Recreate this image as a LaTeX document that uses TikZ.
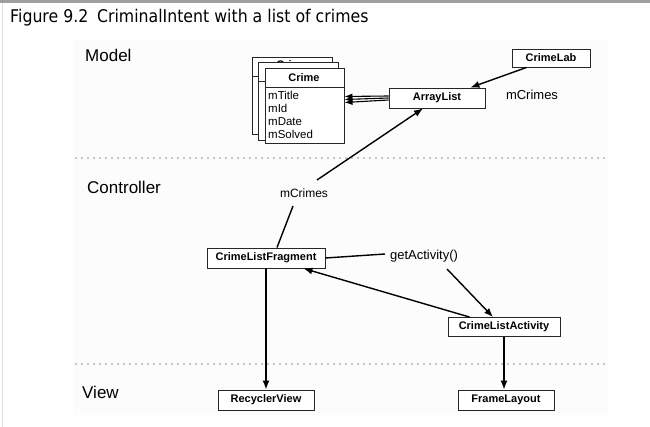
\documentclass[tikz,border=0pt]{standalone}
\usepackage{fontspec}
\setmainfont{Liberation Sans}
\newfontfamily\titlefont[FakeStretch=0.9]{DejaVu Sans}
\usetikzlibrary{arrows.meta,calc}
\begin{document}
\begin{tikzpicture}[x=1pt,y=-1pt,
  box/.style={draw=black!85,line width=0.9pt,fill=white,inner sep=0pt,font=\fontsize{11}{12}\selectfont\bfseries},
  arr/.style={line width=1.4pt,-{Latex[length=9pt,width=7pt]}},
  thinarr/.style={line width=1.1pt,-{Latex[length=8pt,width=6pt]}},
  ln/.style={line width=1.4pt},
  lbl/.style={inner sep=0pt,font=\fontsize{13}{14}\selectfont},
  field/.style={inner sep=0pt,anchor=west,font=\fontsize{11.5}{12}\selectfont},
  sect/.style={inner sep=0pt,anchor=west,font=\fontsize{17}{18}\selectfont},
  sepline/.style={draw=gray!45,line width=1.2pt,dash pattern=on 2pt off 4pt},
  card/.style={draw=black!85,line width=0.9pt,fill=white}]
\useasboundingbox (0,0) rectangle (650,427);
\fill[white] (0,0) rectangle (650,427);
\fill[gray!2] (73,40) rectangle (608,415);
\fill[gray!75] (0,0) rectangle (650,3);
\draw[gray!25,line width=1pt] (2.5,3) -- (2.5,427);
\node[anchor=west,inner sep=0pt,font=\titlefont\fontsize{17.5}{19}\selectfont] (title) at (10,18) {Figure 9.2\enspace CriminalIntent with a list of crimes};

% section separators and labels
\draw[sepline] (75,158) -- (605,158);
\draw[sepline] (75,364) -- (605,364);
\node[sect] (model) at (85,55) {Model};
\node[sect] (controller) at (87,187) {Controller};
\node[sect] (view) at (82,392) {View};

% stacked Crime cards
\draw[card] (252,57) rectangle (332,134);
\draw[black!85,line width=0.9pt] (252,76) -- (332,76);
\node[inner sep=0pt,font=\fontsize{11}{12}\selectfont\bfseries] (crimeb1) at (292,64.5) {Crime};
\draw[card] (258,62) rectangle (338,140);
\draw[black!85,line width=0.9pt] (258,81) -- (338,81);
\node[card,minimum width=79pt,minimum height=75pt,inner sep=0pt] (crime) at (304.5,105.5) {};
\draw[black!85,line width=0.9pt] (265,87) -- (344,87);
\node[inner sep=0pt,font=\fontsize{11}{12}\selectfont\bfseries] (crimeh) at (304,78) {Crime};
\node[field] (f1) at (268,95.5) {mTitle};
\node[field] (f2) at (268,108.5) {mId};
\node[field] (f3) at (268,121.5) {mDate};
\node[field] (f4) at (268,134) {mSolved};

% boxes
\node[box,minimum width=96pt,minimum height=20pt] (al) at (437,98) {ArrayList};
\node[box,minimum width=78pt,minimum height=18pt] (cl) at (551,58) {CrimeLab};
\node[box,minimum width=118pt,minimum height=20pt] (clf) at (266,258) {CrimeListFragment};
\node[box,minimum width=112pt,minimum height=19pt] (cla) at (504,327) {CrimeListActivity};
\node[box,minimum width=96pt,minimum height=20pt] (rv) at (266,400) {RecyclerView};
\node[box,minimum width=96pt,minimum height=20pt] (fl) at (506,400) {FrameLayout};

% labels
\node[lbl] (mc1) at (532,95) {mCrimes};
\node[lbl,font=\fontsize{12}{13}\selectfont] (mc2) at (304,193) {mCrimes};
\node[lbl] (ga) at (424,256) {getActivity()};

% connectors
\draw[arr] ($(cl.south west)+(15,0)$) -- ($(al.north east)+(-15,0)$);
\draw[thinarr] ($(al.west)+(0,-2)$) -- ($(crime.east)+(0,-9)$);
\draw[thinarr] ($(al.west)+(0,0)$) -- ($(crime.east)+(0,-6)$);
\draw[thinarr] ($(al.west)+(0,2)$) -- ($(crime.east)+(0,-3)$);
\coordinate (mc2top) at (317,180);
\coordinate (mc2bot) at (293,206);
\draw[arr] (mc2top) -- ($(al.south)+(-14,0)$);
\draw[ln] (mc2bot) -- ($(clf.north)+(11,0)$);
\coordinate (gaL) at (385,254);
\coordinate (gaR) at (447,269);
\draw[ln] (clf.east) -- (gaL);
\draw[arr] (gaR) -- ($(cla.north)+(-11,0)$);
\draw[arr] ($(cla.north west)+(22,0)$) -- ($(clf.south east)+(-22,0)$);
\draw[arr] (clf.south) -- (rv.north);
\draw[arr] (cla.south) -- (cla.south |- fl.north);
\end{tikzpicture}
\end{document}
